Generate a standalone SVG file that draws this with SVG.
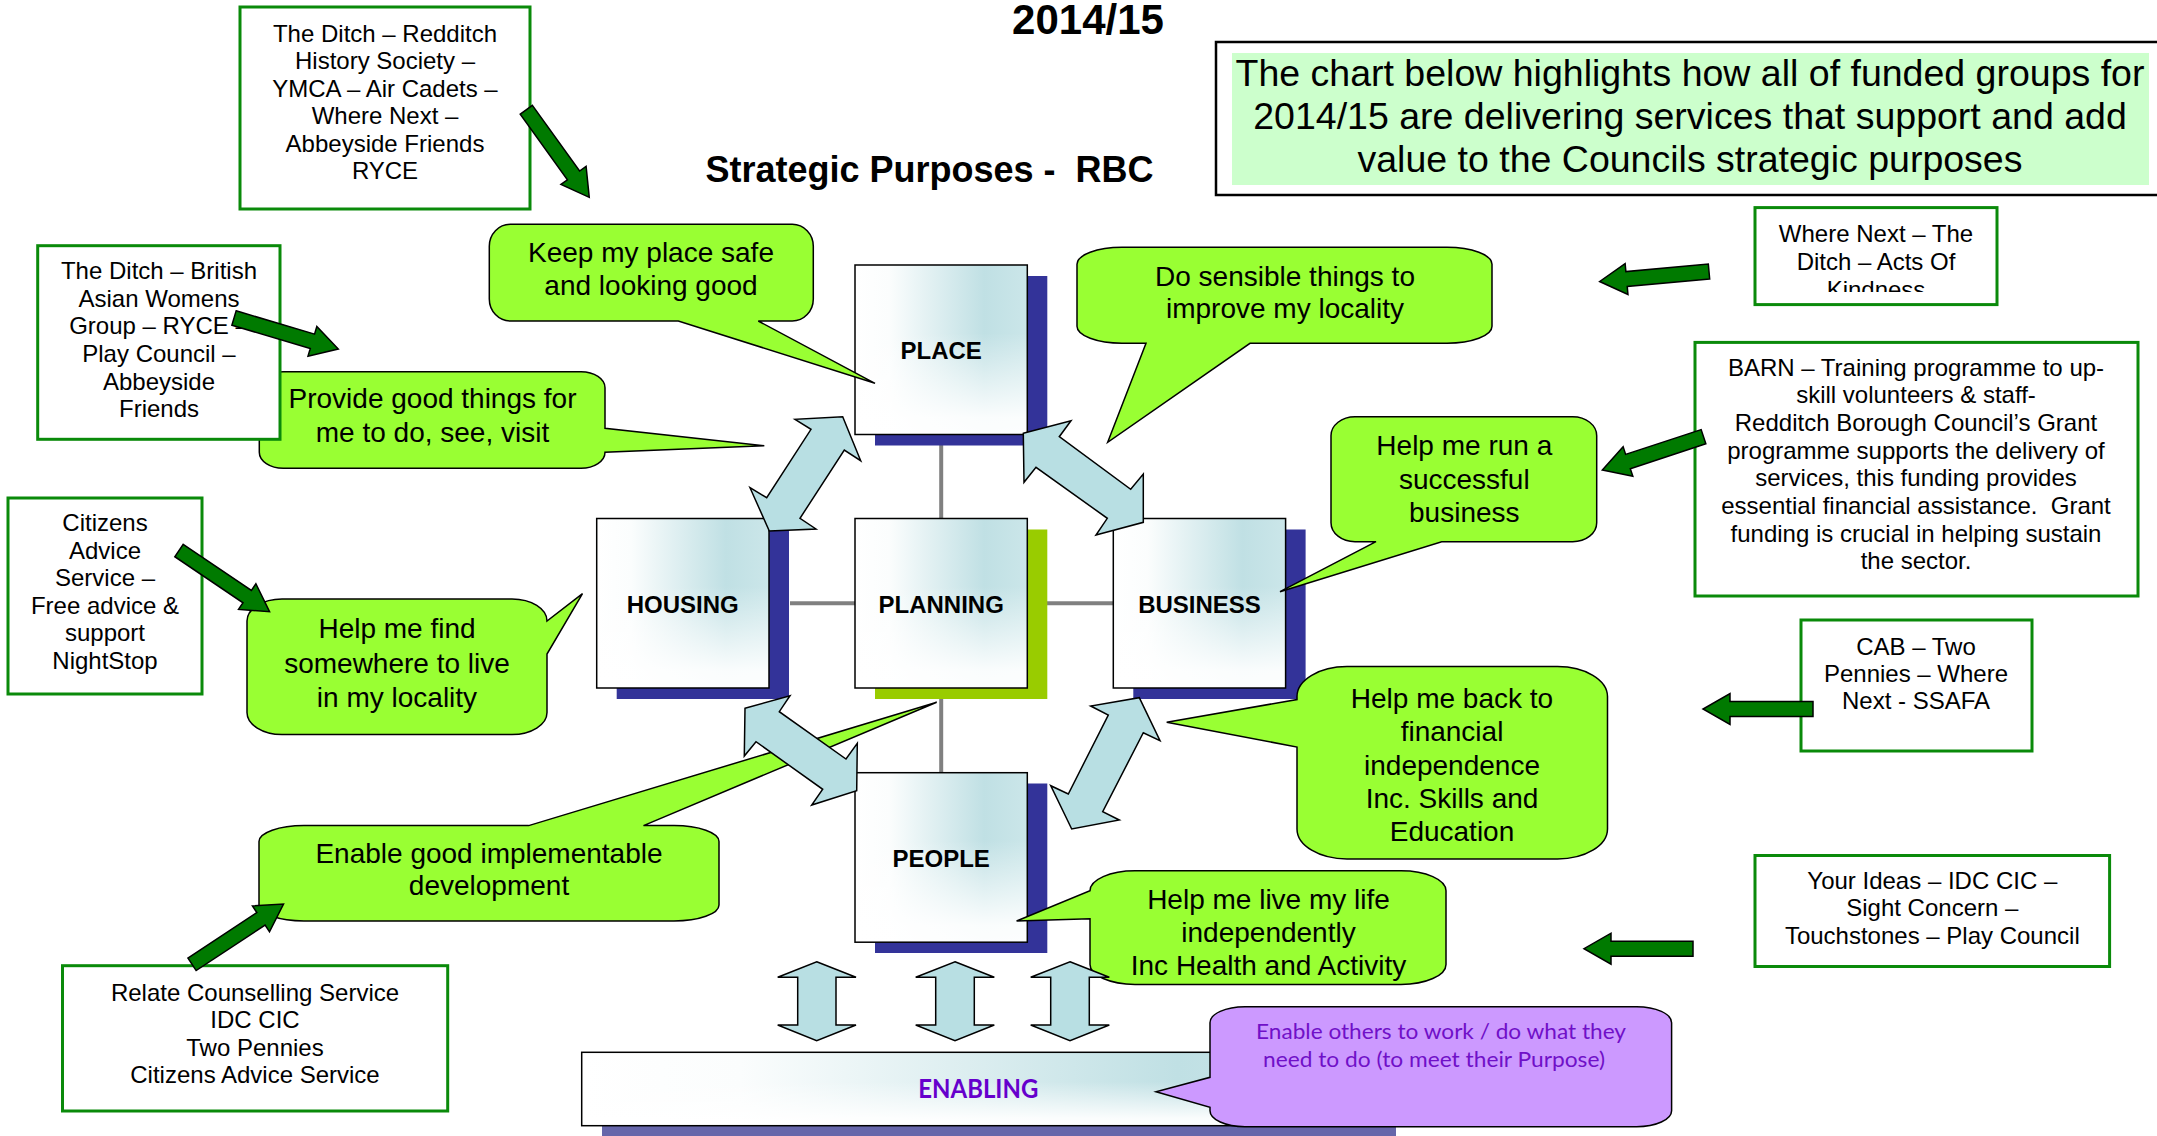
<svg xmlns="http://www.w3.org/2000/svg" width="2157" height="1136" viewBox="0 0 2157 1136">
<defs>
<linearGradient id="hg" x1="0" y1="0" x2="1" y2="0">
<stop offset="0" stop-color="#ffffff"/><stop offset="0.2" stop-color="#fbfdfd"/><stop offset="0.75" stop-color="#c0e0e4"/><stop offset="1" stop-color="#cbe6e9"/>
</linearGradient>
<linearGradient id="vg" x1="0" y1="0" x2="0" y2="1">
<stop offset="0" stop-color="#ffffff" stop-opacity="0"/><stop offset="0.4" stop-color="#ffffff" stop-opacity="0"/><stop offset="0.9" stop-color="#ffffff" stop-opacity="0.92"/><stop offset="1" stop-color="#ffffff" stop-opacity="0.95"/>
</linearGradient>
<clipPath id="wnclip"><rect x="1755" y="207" width="243" height="85"/></clipPath>
</defs>
<style>
.cb{fill:#fff;stroke:#0a8a0a;stroke-width:3}
.tx{font-family:"Liberation Sans",Arial,sans-serif;font-size:24px;fill:#000;text-anchor:middle}
.co{fill:#99ff33;stroke:#000;stroke-width:1.5;stroke-linejoin:miter}
.ct{font-family:"Liberation Sans",Arial,sans-serif;font-size:28px;fill:#000;text-anchor:middle}
.bxs{fill:none;stroke:#000;stroke-width:1.5}
.lbl{font-family:"Liberation Sans",Arial,sans-serif;font-weight:bold;font-size:24px;fill:#000;text-anchor:middle}
.ga{fill:#007a00;stroke:#000;stroke-width:1.5}
.da{fill:#b8dfe3;stroke:#000;stroke-width:1.5}
.sh{fill:#333399}
.gl{stroke:#808080;stroke-width:4;fill:none}
.pt{font-family:Lato,"Open Sans",sans-serif;font-size:22px;fill:#7010c8;text-anchor:middle}
</style>
<rect width="2157" height="1136" fill="#fff"/>

<g id="title">
<text x="1088" y="34" font-family="Liberation Sans, Arial, sans-serif" font-weight="bold" font-size="42" text-anchor="middle">2014/15</text>
<text x="929.5" y="182" font-family="Liberation Sans, Arial, sans-serif" font-weight="bold" font-size="36" text-anchor="middle" xml:space="preserve">Strategic Purposes -  RBC</text>
</g>

<g id="info-box">
<rect x="1216" y="42" width="960" height="153" fill="#fff" stroke="#000" stroke-width="2.5"/>
<rect x="1232" y="53" width="917" height="132" fill="#ccffcc"/>
<text x="1690" y="86" font-family="Liberation Sans, Arial, sans-serif" font-size="37.5" text-anchor="middle">The chart below highlights how all of funded groups for</text>
<text x="1690" y="129" font-family="Liberation Sans, Arial, sans-serif" font-size="37.5" text-anchor="middle">2014/15 are delivering services that support and add</text>
<text x="1690" y="172" font-family="Liberation Sans, Arial, sans-serif" font-size="37.5" text-anchor="middle">value to the Councils strategic purposes</text>
</g>

<g id="grid-lines">
<line class="gl" x1="941.2" y1="444" x2="941.2" y2="519"/>
<line class="gl" x1="941.2" y1="699" x2="941.2" y2="773"/>
<line class="gl" x1="790" y1="603.3" x2="855" y2="603.3"/>
<line class="gl" x1="1047" y1="603.3" x2="1113.3" y2="603.3"/>
</g>

<g id="place">
<rect class="sh" x="875" y="276" width="172.3" height="169.5"/>
<rect x="855" y="265" width="172.3" height="169.5" fill="url(#hg)"/>
<rect x="855" y="265" width="172.3" height="169.5" fill="url(#vg)" class="bxs" style="fill:url(#vg)"/>
<text class="lbl" x="941.2" y="358.5">PLACE</text>
</g>
<g id="housing">
<rect class="sh" x="616.7" y="529.5" width="172.3" height="169.5"/>
<rect x="596.7" y="518.5" width="172.3" height="169.5" fill="url(#hg)"/>
<rect x="596.7" y="518.5" width="172.3" height="169.5" class="bxs" style="fill:url(#vg)"/>
<text class="lbl" x="682.8" y="612.5">HOUSING</text>
</g>
<g id="planning">
<rect x="875" y="529.5" width="172.3" height="169.5" fill="#99cc00"/>
<rect x="855" y="518.5" width="172.3" height="169.5" fill="url(#hg)"/>
<rect x="855" y="518.5" width="172.3" height="169.5" class="bxs" style="fill:url(#vg)"/>
<text class="lbl" x="941.2" y="612.5">PLANNING</text>
</g>
<g id="business">
<rect class="sh" x="1133.3" y="529.5" width="172.3" height="169.5"/>
<rect x="1113.3" y="518.5" width="172.3" height="169.5" fill="url(#hg)"/>
<rect x="1113.3" y="518.5" width="172.3" height="169.5" class="bxs" style="fill:url(#vg)"/>
<text class="lbl" x="1199.5" y="612.5">BUSINESS</text>
</g>
<g id="people">
<rect class="sh" x="875" y="783.5" width="172.3" height="169.5"/>
<rect x="855" y="772.7" width="172.3" height="169.5" fill="url(#hg)"/>
<rect x="855" y="772.7" width="172.3" height="169.5" class="bxs" style="fill:url(#vg)"/>
<text class="lbl" x="941.2" y="866.5">PEOPLE</text>
</g>

<g id="enabling">
<rect x="602" y="1063" width="794" height="80" fill="#6666aa"/>
<rect x="581.7" y="1052.3" width="794.3" height="73.4" fill="url(#hg)"/>
<rect x="581.7" y="1052.3" width="794.3" height="73.4" class="bxs" style="fill:url(#vg)"/>
<text x="978.3" y="1098.3" font-family="Lato, 'Open Sans', sans-serif" font-weight="bold" font-size="26" fill="#6600cc" text-anchor="middle" textLength="120" lengthAdjust="spacingAndGlyphs">ENABLING</text>
</g>

<g id="callout-keep">
<path class="co" d="M510.3,224.3 H792.3 A21,22 0 0 1 813.3,246.3 V299 A21,22 0 0 1 792.3,321 H758.3 L875,383.3 L678.3,321 H510.3 A21,22 0 0 1 489.3,299 V246.3 A21,22 0 0 1 510.3,224.3 Z"/>
<text class="ct" x="651" y="261.7">Keep my place safe</text>
<text class="ct" x="651" y="295">and looking good</text>
</g>
<g id="callout-provide">
<path class="co" d="M283.3,371.7 H581 A24,16 0 0 1 605,387.7 V428.3 L764.3,445.7 L605,452.3 A24,16 0 0 1 581,468.3 H283.3 A24,16 0 0 1 259.3,452.3 V387.7 A24,16 0 0 1 283.3,371.7 Z"/>
<text class="ct" x="432.5" y="408.3">Provide good things for</text>
<text class="ct" x="432.5" y="442.3">me to do, see, visit</text>
</g>
<g id="callout-sensible">
<path class="co" d="M1122,247.3 H1447 A45,17 0 0 1 1492,264.3 V326.3 A45,17 0 0 1 1447,343.3 H1250 L1107.7,442.3 L1146,343.3 H1122 A45,17 0 0 1 1077,326.3 V264.3 A45,17 0 0 1 1122,247.3 Z"/>
<text class="ct" x="1285" y="286">Do sensible things to</text>
<text class="ct" x="1285" y="318">improve my locality</text>
</g>
<g id="callout-business">
<path class="co" d="M1355,416.7 H1572.7 A24,19 0 0 1 1596.7,435.7 V522.7 A24,19 0 0 1 1572.7,541.7 H1441.7 L1280,591.7 L1376,541.7 H1355 A24,19 0 0 1 1331,522.7 V435.7 A24,19 0 0 1 1355,416.7 Z"/>
<text class="ct" x="1464.3" y="455">Help me run a</text>
<text class="ct" x="1464.3" y="489">successful</text>
<text class="ct" x="1464.3" y="522">business</text>
</g>
<g id="callout-housing">
<path class="co" d="M282,599 H512 A35,22 0 0 1 547,621 L582.5,593.6 L547,654 V712.6 A35,22 0 0 1 512,734.6 H282 A35,22 0 0 1 247,712.6 V621 A35,22 0 0 1 282,599 Z"/>
<text class="ct" x="397" y="638">Help me find</text>
<text class="ct" x="397" y="672.5">somewhere to live</text>
<text class="ct" x="397" y="707">in my locality</text>
</g>
<g id="callout-development">
<path class="co" d="M304,825.6 H528.7 L936.7,702.3 L643.5,825.6 H674 A45,16 0 0 1 719,841.6 V905 A45,16 0 0 1 674,921 H304 A45,16 0 0 1 259,905 V841.6 A45,16 0 0 1 304,825.6 Z"/>
<text class="ct" x="489" y="863">Enable good implementable</text>
<text class="ct" x="489" y="895">development</text>
</g>
<g id="callout-financial">
<path class="co" d="M1347,666.5 H1557.5 A50,30 0 0 1 1607.5,696.5 V829 A50,30 0 0 1 1557.5,859 H1347 A50,30 0 0 1 1297,829 V747 L1166.7,722.3 L1297,699.5 V696.5 A50,30 0 0 1 1347,666.5 Z"/>
<text class="ct" x="1452" y="707.5">Help me back to</text>
<text class="ct" x="1452" y="741">financial</text>
<text class="ct" x="1452" y="774.5">independence</text>
<text class="ct" x="1452" y="807.7">Inc. Skills and</text>
<text class="ct" x="1452" y="841">Education</text>
</g>
<g id="callout-independent">
<path class="co" d="M1135,870.8 H1401 A45,20 0 0 1 1446,890.8 V964.4 A45,20 0 0 1 1401,984.4 H1135 A45,20 0 0 1 1090,964.4 V918.7 L1016.6,921 L1090,890.8 A45,20 0 0 1 1135,870.8 Z"/>
<text class="ct" x="1268.5" y="908.7">Help me live my life</text>
<text class="ct" x="1268.5" y="941.7">independently</text>
<text class="ct" x="1268.5" y="974.7">Inc Health and Activity</text>
</g>
<g id="callout-enabling">
<path d="M1245,1006.7 H1636.6 A35,16 0 0 1 1671.6,1022.7 V1110.7 A35,16 0 0 1 1636.6,1126.7 H1245 A35,16 0 0 1 1210,1110.7 V1107.3 L1156,1091.7 L1210,1077.3 V1022.7 A35,16 0 0 1 1245,1006.7 Z" fill="#cc99ff" stroke="#000" stroke-width="1.5"/>
<text class="pt" x="1441" y="1039" textLength="370" lengthAdjust="spacingAndGlyphs">Enable others to work / do what they</text>
<text class="pt" x="1434" y="1067" textLength="342" lengthAdjust="spacingAndGlyphs">need to do (to meet their Purpose)</text>
</g>

<g id="group-place">
<rect class="cb" x="240" y="7" width="290" height="202"/>
<text class="tx" x="385" y="41.7">The Ditch – Redditch</text>
<text class="tx" x="385" y="69.3">History Society –</text>
<text class="tx" x="385" y="96.8">YMCA – Air Cadets –</text>
<text class="tx" x="385" y="124.3">Where Next –</text>
<text class="tx" x="385" y="151.8">Abbeyside Friends</text>
<text class="tx" x="385" y="179.3">RYCE</text>
</g>
<g id="group-provide">
<rect class="cb" x="37.7" y="245.7" width="242.3" height="193.6"/>
<text class="tx" x="159" y="279.3">The Ditch – British</text>
<text class="tx" x="159" y="306.8">Asian Womens</text>
<text class="tx" x="159" y="334.4">Group – RYCE –</text>
<text class="tx" x="159" y="362">Play Council –</text>
<text class="tx" x="159" y="389.5">Abbeyside</text>
<text class="tx" x="159" y="417">Friends</text>
</g>
<g id="group-housing">
<rect class="cb" x="8" y="498" width="194" height="196"/>
<text class="tx" x="105" y="531">Citizens</text>
<text class="tx" x="105" y="558.5">Advice</text>
<text class="tx" x="105" y="586">Service –</text>
<text class="tx" x="105" y="613.5">Free advice &amp;</text>
<text class="tx" x="105" y="641">support</text>
<text class="tx" x="105" y="668.5">NightStop</text>
</g>
<g id="group-development">
<rect class="cb" x="62.5" y="965.7" width="385.2" height="145.3"/>
<text class="tx" x="255" y="1000.5">Relate Counselling Service</text>
<text class="tx" x="255" y="1028">IDC CIC</text>
<text class="tx" x="255" y="1055.5">Two Pennies</text>
<text class="tx" x="255" y="1083">Citizens Advice Service</text>
</g>
<g id="group-sensible">
<rect class="cb" x="1755" y="207.6" width="242" height="97"/>
<g clip-path="url(#wnclip)">
<text class="tx" x="1876" y="242">Where Next – The</text>
<text class="tx" x="1876" y="270">Ditch – Acts Of</text>
<text class="tx" x="1876" y="297.5">Kindness</text>
</g>
</g>
<g id="group-business">
<rect class="cb" x="1695" y="342.4" width="443" height="253.6"/>
<text class="tx" x="1916" y="375.6">BARN – Training programme to up-</text>
<text class="tx" x="1916" y="403.3">skill volunteers &amp; staff-</text>
<text class="tx" x="1916" y="431">Redditch Borough Council’s Grant</text>
<text class="tx" x="1916" y="458.7">programme supports the delivery of</text>
<text class="tx" x="1916" y="486.4">services, this funding provides</text>
<text class="tx" x="1916" y="514" xml:space="preserve">essential financial assistance.  Grant</text>
<text class="tx" x="1916" y="541.7">funding is crucial in helping sustain</text>
<text class="tx" x="1916" y="569.4">the sector.</text>
</g>
<g id="group-financial">
<rect class="cb" x="1801" y="620" width="231" height="131"/>
<text class="tx" x="1916" y="654.7">CAB – Two</text>
<text class="tx" x="1916" y="681.5">Pennies – Where</text>
<text class="tx" x="1916" y="708.7">Next - SSAFA</text>
</g>
<g id="group-independent">
<rect class="cb" x="1755" y="855.5" width="354.6" height="111"/>
<text class="tx" x="1932.3" y="888.5">Your Ideas – IDC CIC –</text>
<text class="tx" x="1932.3" y="916">Sight Concern –</text>
<text class="tx" x="1932.3" y="943.6">Touchstones – Play Council</text>
</g>

<g id="connectors">
<polygon class="da" points="842.7,416.7 860.7,460.7 844.3,450 800,518.3 816,529 769.3,531 750,487.7 766.7,497.7 811,429.3 795,419.3"/>
<polygon class="da" points="1023.3,433.3 1071,420.7 1059.3,436.7 1130.7,489.3 1143.3,474 1143.3,522.3 1096,535 1107.3,518.3 1036,467.3 1024,482.3"/>
<polygon class="da" points="745,708.3 790,695.7 779.3,711.7 846,759 857.3,743.3 856.7,790.7 811.7,805 822.7,789.3 756,741.7 744.3,756"/>
<polygon class="da" points="1139.3,697.7 1160,740.7 1143.3,732.7 1102.7,811.7 1119.3,820 1071.7,829 1050.7,785.7 1068.3,794 1108.3,715 1090.7,706"/>
<polygon class="da" points="816.7,961.7 856,977.3 836,977.3 836,1025 856,1025 816.7,1040.7 777.7,1025 797.7,1025 797.7,977.3 777.7,977.3"/>
<polygon class="da" points="955,961.7 994.3,977.3 974.3,977.3 974.3,1025 994.3,1025 955,1040.7 915.7,1025 935.7,1025 935.7,977.3 915.7,977.3"/>
<polygon class="da" points="1070,961.7 1109.3,977.3 1089.3,977.3 1089.3,1025 1109.3,1025 1070,1040.7 1030.7,1025 1050.7,1025 1050.7,977.3 1030.7,977.3"/>
<polygon class="ga" transform="translate(526.3,109.7) rotate(54.3)" points="0,-7.5 80.9,-7.5 80.9,-15.5 107.9,0 80.9,15.5 80.9,7.5 0,7.5"/>
<polygon class="ga" transform="translate(234,318) rotate(16.55)" points="0,-7.5 81.8,-7.5 81.8,-15.5 108.8,0 81.8,15.5 81.8,7.5 0,7.5"/>
<polygon class="ga" transform="translate(179,550.5) rotate(34.04)" points="0,-7.5 82.3,-7.5 82.3,-15.5 109.3,0 82.3,15.5 82.3,7.5 0,7.5"/>
<polygon class="ga" transform="translate(192,964.3) rotate(-33.38)" points="0,-7.5 82.6,-7.5 82.6,-15.5 109.6,0 82.6,15.5 82.6,7.5 0,7.5"/>
<polygon class="ga" transform="translate(1709,271.5) rotate(174.77)" points="0,-7.5 82.8,-7.5 82.8,-15.5 109.8,0 82.8,15.5 82.8,7.5 0,7.5"/>
<polygon class="ga" transform="translate(1703.5,436.7) rotate(161.79)" points="0,-7.5 79.5,-7.5 79.5,-15.5 106.5,0 79.5,15.5 79.5,7.5 0,7.5"/>
<polygon class="ga" transform="translate(1813,709) rotate(180)" points="0,-7.5 83,-7.5 83,-15.5 110,0 83,15.5 83,7.5 0,7.5"/>
<polygon class="ga" transform="translate(1693,948.7) rotate(180)" points="0,-7.5 82,-7.5 82,-15.5 109,0 82,15.5 82,7.5 0,7.5"/>
</g>
</svg>
